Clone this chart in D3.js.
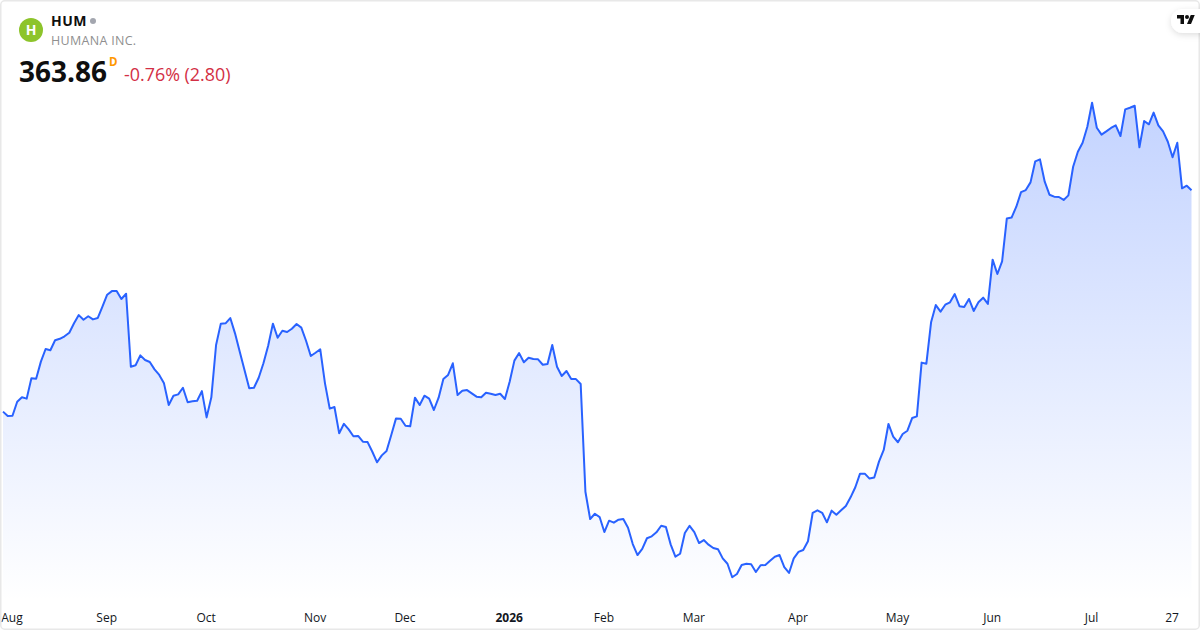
<!DOCTYPE html>
<html>
<head>
<meta charset="utf-8">
<script src="https://cdn.jsdelivr.net/npm/d3@7"></script>
<style>
  html, body { margin: 0; padding: 0; background: #fff; }
  svg { display: block; font-family: "Open Sans", sans-serif; }
  .tick text { font-size: 12px; fill: #131722; }
</style>
</head>
<body>
<div id="chart"></div>
<script>
// daily closes
var closes = [
  229.3,226.6,226.8,235.3,238.0,237.2,249.6,249.3,259.7,267.4,266.6,272.7,273.6,275.1,277.3,283.0,288.0,285.2,287.3,285.4,
  286.2,293.1,300.4,302.6,302.6,297.8,301.0,256.6,257.5,263.5,260.7,259.5,255.0,251.6,246.5,233.3,239.0,239.8,243.8,235.0,
  235.6,235.9,241.8,225.8,238.0,269.8,282.8,283.0,286.2,276.9,265.7,254.6,243.5,243.8,249.9,258.7,269.4,282.8,274.2,278.5,
  277.7,279.7,282.6,280.4,272.4,263.1,265.1,267.2,246.5,231.1,232.1,216.1,221.9,218.5,214.3,214.5,211.0,210.8,204.9,198.5,
  202.7,205.4,215.1,225.2,225.0,220.7,220.4,237.8,233.3,239.0,237.2,230.3,237.8,249.1,251.6,258.7,239.4,242.0,242.4,240.4,
  238.4,238.0,240.8,240.2,239.4,240.2,237.0,247.5,260.3,264.9,259.3,262.1,261.3,261.1,257.8,258.3,269.8,256.6,251.0,254.0,
  249.1,249.1,246.1,180.6,164.0,167.2,165.2,156.1,163.0,161.8,163.6,164.0,158.7,148.8,142.1,145.9,152.3,153.5,155.9,159.9,
  159.2,148.6,141.1,142.9,155.5,159.9,156.1,149.4,151.2,148.4,146.4,145.6,140.1,136.8,128.6,130.6,136.1,136.8,136.5,131.8,
  135.9,136.1,138.7,141.1,142.1,134.8,131.2,140.1,144.0,145.2,150.5,167.8,169.3,167.8,162.0,169.1,166.6,169.3,171.9,177.2,
  183.3,191.6,191.6,188.6,189.2,198.9,206.0,221.8,214.1,210.7,215.7,217.7,225.4,226.4,259.1,258.4,283.6,294.1,290.1,294.3,
  295.8,300.8,293.4,292.9,297.8,290.5,295.8,298.6,294.8,321.7,313.0,320.7,346.8,347.3,353.9,362.8,364.0,368.7,381.5,382.7,
  369.1,361.2,360.0,359.8,358.0,360.8,378.2,387.3,392.8,402.5,417.1,401.9,397.7,399.7,401.8,403.4,396.9,413.1,414.1,415.3,
  390.0,406.0,404.0,411.1,403.4,399.7,393.4,384.0,392.8,365.1,366.66,363.86
];

var tickIndex = [2, 22, 43, 66, 85, 107, 127, 146, 168, 189, 209, 230, 247];
var tickLabels = ["Aug", "Sep", "Oct", "Nov", "Dec", "2026", "Feb", "Mar", "Apr", "May", "Jun", "Jul", "27"];

var symbol = "HUM";
var company = "HUMANA INC.";
var lastPrice = "363.86";
var change = "-0.76% (2.80)";

var width = 1200, height = 630;

var svg = d3.select("#chart").append("svg")
    .attr("width", width)
    .attr("height", height);

var defs = svg.append("defs");

var grad = defs.append("linearGradient")
    .attr("id", "areaFill")
    .attr("gradientUnits", "userSpaceOnUse")
    .attr("x1", 0).attr("x2", 0)
    .attr("y1", 102).attr("y2", 601);
grad.append("stop").attr("offset", 0).attr("stop-color", "#2962ff").attr("stop-opacity", 0.28);
grad.append("stop").attr("offset", 1).attr("stop-color", "#2962ff").attr("stop-opacity", 0);

var shadow = defs.append("filter")
    .attr("id", "badgeShadow")
    .attr("x", "-50%").attr("y", "-50%")
    .attr("width", "200%").attr("height", "200%");
shadow.append("feDropShadow")
    .attr("dx", 0).attr("dy", 2)
    .attr("stdDeviation", 3)
    .attr("flood-color", "#000")
    .attr("flood-opacity", 0.13);

var x = d3.scaleLinear().domain([0, closes.length - 1]).range([3, 1191.5]);
var y = d3.scaleLinear().domain([120, 420]).range([591.4, 98.0]);

var area = d3.area()
    .x(function(d, i) { return x(i); })
    .y0(601)
    .y1(function(d) { return y(d); });

var line = d3.line()
    .x(function(d, i) { return x(i); })
    .y(function(d) { return y(d); });

svg.append("path")
    .datum(closes)
    .attr("d", area)
    .attr("fill", "url(#areaFill)");

svg.append("path")
    .datum(closes)
    .attr("d", line)
    .attr("fill", "none")
    .attr("stroke", "#2962ff")
    .attr("stroke-width", 2)
    .attr("stroke-linejoin", "round");

// month labels
var xAxis = d3.axisBottom(x)
    .tickValues(tickIndex)
    .tickSize(0)
    .tickPadding(0)
    .tickFormat(function(d, i) { return tickLabels[i]; });

var axisG = svg.append("g")
    .attr("transform", "translate(-1,613)")
    .call(xAxis)
    .attr("font-family", null);  // axis sets sans-serif otherwise
axisG.select(".domain").remove();
axisG.selectAll("text")
    .style("font-weight", function(d, i) { return tickLabels[i] == "2026" ? 700 : 400; });

// header
svg.append("circle")
    .attr("cx", 31).attr("cy", 30).attr("r", 12)
    .attr("fill", "#8dc42b");
svg.append("text")
    .attr("x", 31).attr("y", 35)
    .attr("text-anchor", "middle")
    .attr("font-size", 14).attr("font-weight", 700)
    .attr("fill", "#fff")
    .text("H");

svg.append("text")
    .attr("x", 51).attr("y", 26)
    .attr("font-size", 14).attr("font-weight", 700)
    .attr("letter-spacing", 0.5)
    .attr("fill", "#0f0f0f")
    .text(symbol);
svg.append("circle")
    .attr("cx", 93).attr("cy", 21).attr("r", 3)
    .attr("fill", "#a3a6af");
svg.append("text")
    .attr("x", 51).attr("y", 45)
    .attr("font-size", 12.5)
    .attr("letter-spacing", 0.3)
    .attr("fill", "#8f8f8f")
    .text(company);

svg.append("text")
    .attr("x", 19).attr("y", 82)
    .attr("font-size", 28).attr("font-weight", 700)
    .attr("fill", "#0f0f0f")
    .text(lastPrice);
svg.append("text")
    .attr("x", 109).attr("y", 66)
    .attr("font-size", 11.5).attr("font-weight", 700)
    .attr("fill", "#ff9800")
    .text("D");
svg.append("text")
    .attr("x", 124).attr("y", 81)
    .attr("font-size", 17.9)
    .attr("fill", "#d32f45")
    .text(change);

// frame
svg.append("rect")
    .attr("x", 0.75).attr("y", 0.75)
    .attr("width", width - 1.5).attr("height", height - 1.5)
    .attr("rx", 4)
    .attr("fill", "none")
    .attr("stroke", "#e8e8e8")
    .attr("stroke-width", 1.5);

// logo badge, top right
svg.append("rect")
    .attr("x", 1171).attr("y", 9)
    .attr("width", 50).attr("height", 24)
    .attr("rx", 12)
    .attr("fill", "#fff")
    .attr("filter", "url(#badgeShadow)");

var logo = svg.append("g")
    .attr("transform", "translate(1177,13) scale(0.5)")
    .attr("fill", "#0f0f0f");
logo.append("path").attr("d", "M14 22H7V11H0V4h14v18zM28 22h-8l7.5-18h8L28 22z");
logo.append("circle").attr("cx", 20).attr("cy", 8).attr("r", 4);
</script>
</body>
</html>
